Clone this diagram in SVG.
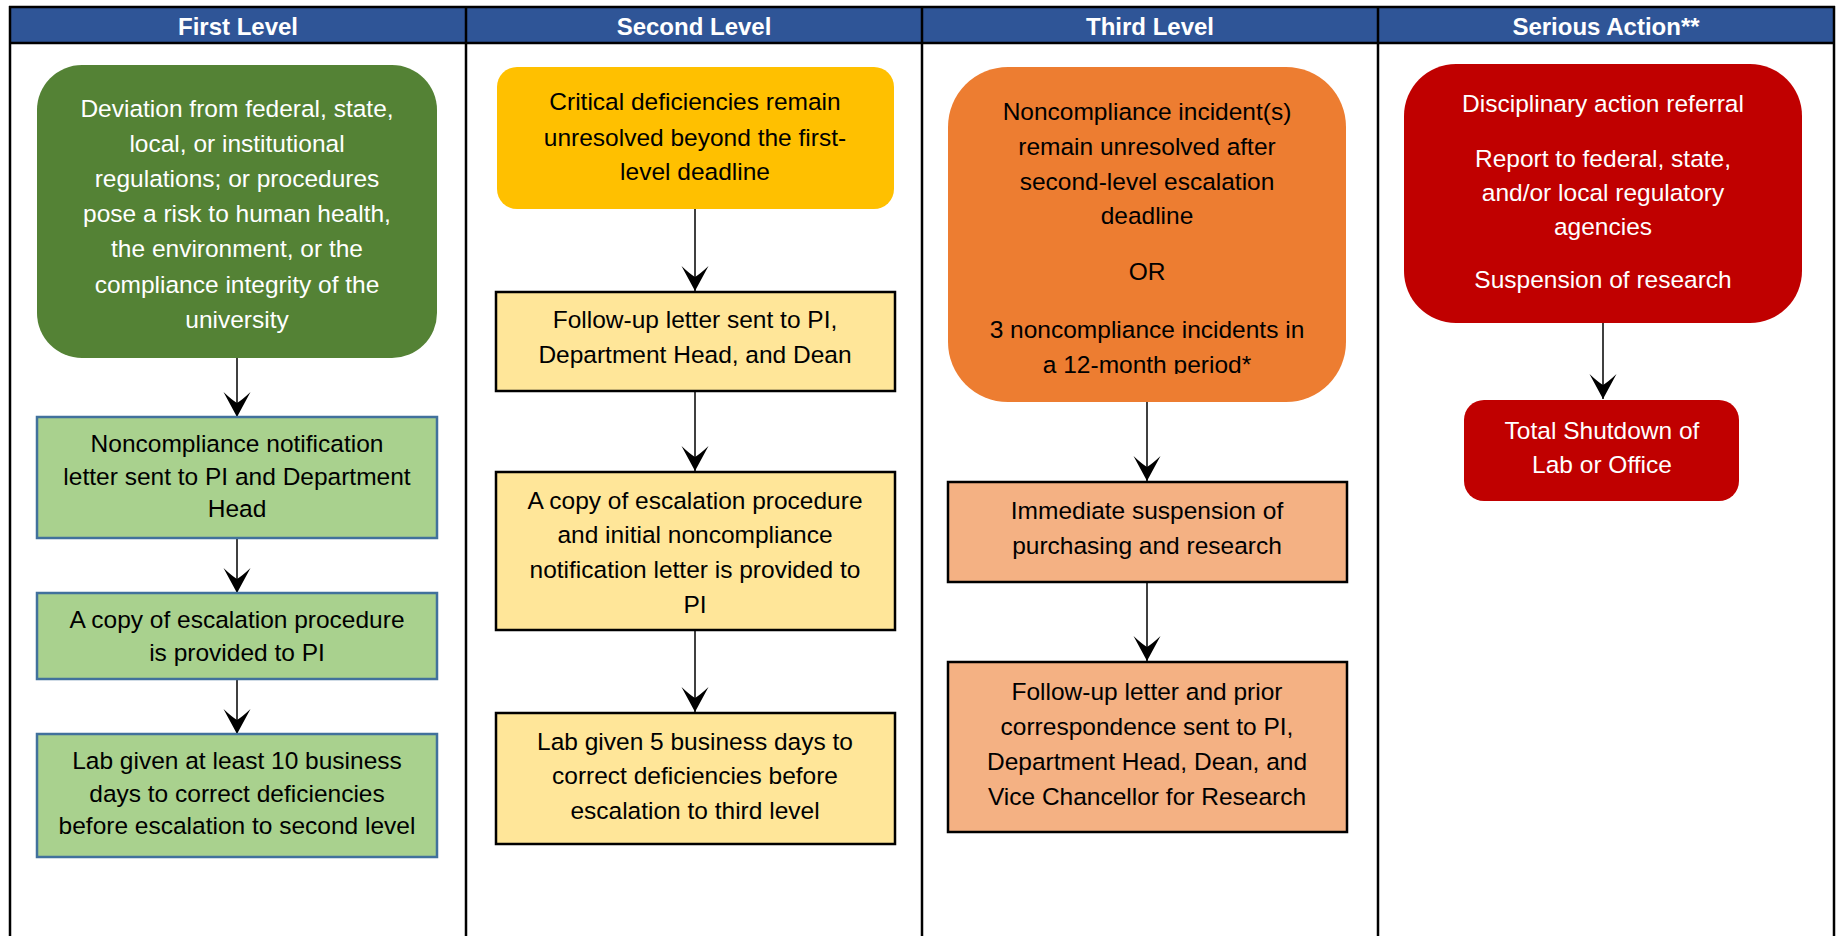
<svg xmlns="http://www.w3.org/2000/svg" width="1837" height="936" viewBox="0 0 1837 936">
<style>
.t{font-family:"Liberation Sans",Arial,sans-serif;font-size:24.5px;text-anchor:middle}
.w{fill:#FFFFFF}
.k{fill:#000000}
.h{font-family:"Liberation Sans",Arial,sans-serif;font-size:24px;font-weight:bold;fill:#FFFFFF;text-anchor:middle}
.grid{stroke:#000000;stroke-width:2.5;fill:none}
.lg{fill:#A9D18E;stroke:#41719C;stroke-width:2.5}
.ly{fill:#FFE699;stroke:#000000;stroke-width:2.5}
.lo{fill:#F4B183;stroke:#000000;stroke-width:2.5}
.conn{stroke:#000000;stroke-width:1.5;fill:none;marker-end:url(#arr)}
</style>
<defs>
<marker id="arr" markerUnits="userSpaceOnUse" markerWidth="30" markerHeight="30" viewBox="-26 -15 28 30" refX="0" refY="0" orient="auto" overflow="visible">
<path d="M0,0 L-25,-13.5 Q-17,-5 -14,0 Q-17,5 -25,13.5 Z" fill="#000000"/>
</marker>
<clipPath id="clipO"><rect x="948" y="67" width="398" height="307"/></clipPath>
</defs>
<rect x="0" y="0" width="1837" height="936" fill="#FFFFFF"/>
<g id="headers">
<rect x="10" y="7" width="1824" height="36" fill="#2F5597"/>
<text class="h" x="238" y="35">First Level</text>
<text class="h" x="694" y="35">Second Level</text>
<text class="h" x="1150" y="35">Third Level</text>
<text class="h" x="1606" y="35">Serious Action**</text>
</g>
<g id="grid" class="grid">
<line x1="9" y1="7" x2="1835" y2="7"/>
<line x1="9" y1="43" x2="1835" y2="43"/>
<line x1="10" y1="6" x2="10" y2="936"/>
<line x1="466" y1="6" x2="466" y2="936"/>
<line x1="922" y1="6" x2="922" y2="936"/>
<line x1="1378" y1="6" x2="1378" y2="936"/>
<line x1="1834" y1="6" x2="1834" y2="936"/>
</g>
<g id="connectors">
<line class="conn" x1="237" y1="358" x2="237" y2="417"/>
<line class="conn" x1="237" y1="538" x2="237" y2="593"/>
<line class="conn" x1="237" y1="679" x2="237" y2="734"/>
<line class="conn" x1="695" y1="209" x2="695" y2="291"/>
<line class="conn" x1="695" y1="391" x2="695" y2="471"/>
<line class="conn" x1="695" y1="630" x2="695" y2="712"/>
<line class="conn" x1="1147" y1="402" x2="1147" y2="481"/>
<line class="conn" x1="1147" y1="582" x2="1147" y2="661"/>
<line class="conn" x1="1603" y1="323" x2="1603" y2="399"/>
</g>
<g id="n1">
<rect x="37" y="65" width="400" height="293" rx="45" ry="45" fill="#548235"/>
<text class="t w" x="237" y="117">Deviation from federal, state,</text>
<text class="t w" x="237" y="152">local, or institutional</text>
<text class="t w" x="237" y="187">regulations; or procedures</text>
<text class="t w" x="237" y="222">pose a risk to human health,</text>
<text class="t w" x="237" y="257">the environment, or the</text>
<text class="t w" x="237" y="293">compliance integrity of the</text>
<text class="t w" x="237" y="328">university</text>
</g>
<g id="n2">
<rect class="lg" x="37" y="417" width="400" height="121"/>
<text class="t k" x="237" y="452">Noncompliance notification</text>
<text class="t k" x="237" y="485">letter sent to PI and Department</text>
<text class="t k" x="237" y="517">Head</text>
</g>
<g id="n3">
<rect class="lg" x="37" y="593" width="400" height="86"/>
<text class="t k" x="237" y="628">A copy of escalation procedure</text>
<text class="t k" x="237" y="661">is provided to PI</text>
</g>
<g id="n4">
<rect class="lg" x="37" y="734" width="400" height="123"/>
<text class="t k" x="237" y="769">Lab given at least 10 business</text>
<text class="t k" x="237" y="802">days to correct deficiencies</text>
<text class="t k" x="237" y="834">before escalation to second level</text>
</g>
<g id="n5">
<rect x="497" y="67" width="397" height="142" rx="20" ry="20" fill="#FFC000"/>
<text class="t k" x="695" y="110">Critical deficiencies remain</text>
<text class="t k" x="695" y="146">unresolved beyond the first-</text>
<text class="t k" x="695" y="180">level deadline</text>
</g>
<g id="n6">
<rect class="ly" x="496" y="292" width="399" height="99"/>
<text class="t k" x="695" y="328">Follow-up letter sent to PI,</text>
<text class="t k" x="695" y="363">Department Head, and Dean</text>
</g>
<g id="n7">
<rect class="ly" x="496" y="472" width="399" height="158"/>
<text class="t k" x="695" y="509">A copy of escalation procedure</text>
<text class="t k" x="695" y="543">and initial noncompliance</text>
<text class="t k" x="695" y="578">notification letter is provided to</text>
<text class="t k" x="695" y="613">PI</text>
</g>
<g id="n8">
<rect class="ly" x="496" y="713" width="399" height="131"/>
<text class="t k" x="695" y="750">Lab given 5 business days to</text>
<text class="t k" x="695" y="784">correct deficiencies before</text>
<text class="t k" x="695" y="819">escalation to third level</text>
</g>
<g id="n9">
<rect x="948" y="67" width="398" height="335" rx="60" ry="60" fill="#ED7D31"/>
<g clip-path="url(#clipO)">
<text class="t k" x="1147" y="120">Noncompliance incident(s)</text>
<text class="t k" x="1147" y="155">remain unresolved after</text>
<text class="t k" x="1147" y="190">second-level escalation</text>
<text class="t k" x="1147" y="224">deadline</text>
<text class="t k" x="1147" y="280">OR</text>
<text class="t k" x="1147" y="338">3 noncompliance incidents in</text>
<text class="t k" x="1147" y="373">a 12-month period*</text>
</g>
</g>
<g id="n10">
<rect class="lo" x="948" y="482" width="399" height="100"/>
<text class="t k" x="1147" y="519">Immediate suspension of</text>
<text class="t k" x="1147" y="554">purchasing and research</text>
</g>
<g id="n11">
<rect class="lo" x="948" y="662" width="399" height="170"/>
<text class="t k" x="1147" y="700">Follow-up letter and prior</text>
<text class="t k" x="1147" y="735">correspondence sent to PI,</text>
<text class="t k" x="1147" y="770">Department Head, Dean, and</text>
<text class="t k" x="1147" y="805">Vice Chancellor for Research</text>
</g>
<g id="n12">
<rect x="1404" y="64" width="398" height="259" rx="52" ry="52" fill="#C00000"/>
<text class="t w" x="1603" y="112">Disciplinary action referral</text>
<text class="t w" x="1603" y="167">Report to federal, state,</text>
<text class="t w" x="1603" y="201">and/or local regulatory</text>
<text class="t w" x="1603" y="235">agencies</text>
<text class="t w" x="1603" y="288">Suspension of research</text>
</g>
<g id="n13">
<rect x="1464" y="400" width="275" height="101" rx="20" ry="20" fill="#C00000"/>
<text class="t w" x="1602" y="439">Total Shutdown of</text>
<text class="t w" x="1602" y="473">Lab or Office</text>
</g>
</svg>
